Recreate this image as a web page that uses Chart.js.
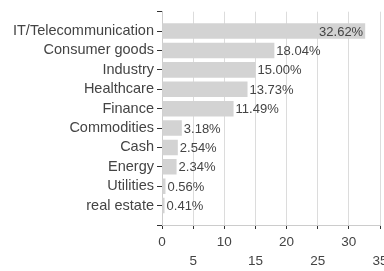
<!DOCTYPE html>
<html>
<head>
<meta charset="utf-8">
<script src="https://cdn.jsdelivr.net/npm/chart.js@4"></script>
<style>
  html, body { margin: 0; padding: 0; background: #fff; overflow: hidden; }
  #wrap { width: 384px; height: 271px; }
</style>
</head>
<body>
<div id="wrap"><canvas id="chart"></canvas></div>
<script>
const categories = ['IT/Telecommunication', 'Consumer goods', 'Industry', 'Healthcare', 'Finance',
  'Commodities', 'Cash', 'Energy', 'Utilities', 'real estate'];
const shares = [32.62, 18.04, 15.00, 13.73, 11.49, 3.18, 2.54, 2.34, 0.56, 0.41];
const xTicks = [0, 5, 10, 15, 20, 25, 30, 35];

const fontFamily = '"Liberation Sans", Arial, Helvetica, sans-serif';
const textColor = '#444';

// blank slot at each end so the axis has half-row padding with tick marks
const labels = [''].concat(categories, ['']);
const values = [null].concat(shares, [null]);

const valueLabels = {
  id: 'valueLabels',
  afterDatasetsDraw(chart) {
    const ctx = chart.ctx;
    const meta = chart.getDatasetMeta(0);
    const area = chart.chartArea;
    ctx.save();
    ctx.font = '13px ' + fontFamily;
    ctx.fillStyle = textColor;
    ctx.textBaseline = 'middle';
    meta.data.forEach((bar, i) => {
      const v = values[i];
      if (v == null) return;
      const text = v.toFixed(2) + '%';
      const w = ctx.measureText(text).width;
      if (bar.x + 3 + w > area.right) {
        ctx.textAlign = 'right';
        ctx.fillText(text, bar.x - 2, bar.y + 1);
      } else {
        ctx.textAlign = 'left';
        ctx.fillText(text, bar.x + 2, bar.y + 1);
      }
    });
    ctx.restore();
  }
};

new Chart(document.getElementById('chart'), {
  type: 'bar',
  data: {
    labels: labels,
    datasets: [{
      data: values,
      backgroundColor: '#d3d3d3',
      borderWidth: 0,
      categoryPercentage: 1,
      barPercentage: 0.8
    }]
  },
  options: {
    indexAxis: 'y',
    responsive: true,
    maintainAspectRatio: false,
    animation: false,
    layout: { padding: { top: 10, left: 0, right: 0, bottom: 0 } },
    plugins: {
      legend: { display: false },
      tooltip: { enabled: false }
    },
    scales: {
      x: {
        min: 0,
        max: 35,
        afterBuildTicks(scale) {
          scale.ticks = xTicks.map(v => ({ value: v }));
        },
        afterFit(scale) {
          scale.paddingRight = 4;
          scale.height = 46;
        },
        ticks: {
          color: textColor,
          font: { family: fontFamily, size: 13.5, lineHeight: 1.4 },
          padding: 4,
          maxRotation: 0,
          autoSkip: false,
          callback: (v, i) => (i % 2 ? ['', String(v)] : String(v))
        },
        grid: { color: '#dcdcdc', tickColor: '#333', tickLength: 4 },
        border: { color: '#ccc' }
      },
      y: {
        offset: false,
        afterFit(scale) {
          scale.width = 162;
        },
        ticks: {
          color: textColor,
          font: { family: fontFamily, size: 14.5 },
          padding: 3,
          autoSkip: false
        },
        grid: { offset: false, drawOnChartArea: false, tickColor: '#333', tickLength: 5 },
        border: { color: '#ccc' }
      }
    }
  },
  plugins: [valueLabels]
});
</script>
</body>
</html>
